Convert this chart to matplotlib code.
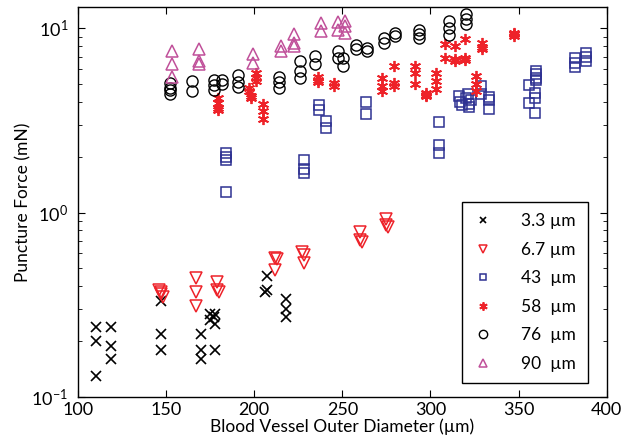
import matplotlib
matplotlib.use('Agg')
import matplotlib.pyplot as plt
from matplotlib.ticker import LogLocator, NullFormatter

plt.rcParams['font.family'] = ['Lato', 'DejaVu Sans']

# 3.3 um needle
x33 = [110, 110, 110, 119, 119, 119, 147, 147, 147, 170, 170, 170,
       175, 178, 175, 178, 177, 177.5, 207, 207, 206, 218, 218, 218]
y33 = [0.24, 0.20, 0.13, 0.24, 0.19, 0.16, 0.33, 0.22, 0.18, 0.22, 0.18, 0.16,
       0.28, 0.28, 0.26, 0.25, 0.27, 0.18, 0.45, 0.38, 0.37, 0.34, 0.30, 0.27]

# 6.7 um
x67 = [146, 147, 147, 148, 167, 167, 167, 179, 179, 180, 212, 213, 212,
       227, 228, 228, 260, 260, 261, 275, 275, 276]
y67 = [0.38, 0.37, 0.36, 0.35, 0.44, 0.37, 0.31, 0.42, 0.38, 0.37, 0.57, 0.56, 0.49,
       0.61, 0.585, 0.53, 0.78, 0.71, 0.69, 0.92, 0.86, 0.83]

# 43 um
x43 = [184, 184, 184, 184, 228.5, 228.5, 228.5, 236.5, 237, 240.5, 240.5,
       263.5, 263.5, 305, 305, 305, 316, 317, 318, 320, 321, 322, 323, 322,
       328.5, 328.5, 333, 333, 333, 356, 356, 359, 359, 359, 360, 360, 360, 360,
       382, 382, 382, 388, 388, 388]
y43 = [2.10, 2.01, 1.93, 1.29, 1.93, 1.72, 1.63, 3.83, 3.6, 3.14, 2.87,
       4.0, 3.44, 3.10, 2.33, 2.10, 4.3, 4.0, 3.85, 4.2, 4.4, 3.9, 4.1, 3.75,
       4.86, 4.37, 4.24, 4.07, 3.63, 4.92, 3.95, 4.47, 4.17, 3.48, 5.86, 5.62, 5.39, 5.22,
       6.91, 6.49, 6.18, 7.3, 6.97, 6.63]

# 58 um
x58 = [179.4, 179.4, 179.4, 179.4, 197, 197, 198, 198, 200.8, 200.8, 200.8,
       204.9, 204.9, 204.9, 236, 236, 236, 245.5, 245.5, 272.4, 272.4, 272.4,
       279.4, 279.4, 279.4, 291, 291, 291, 297.3, 297.3, 297.3, 303.4, 303.4, 303.4,
       308, 308, 314, 314, 314, 319.6, 319.6, 319.6, 329, 329, 329,
       325.7, 325.7, 325.7, 347.4, 347.4, 347.4]
y58 = [4.2, 3.95, 3.7, 3.6, 4.76, 4.57, 4.29, 4.2, 5.73, 5.39, 5.17,
       3.87, 3.56, 3.21, 5.4, 5.2, 5.1, 5.06, 4.86, 5.39, 4.86, 4.57,
       6.23, 5.06, 4.86, 6.23, 5.73, 4.96, 4.47, 4.35, 4.29, 5.73, 5.17, 4.67,
       8.16, 6.91, 7.99, 6.77, 6.63, 8.75, 6.91, 6.7, 8.33, 7.67, 7.9,
       5.5, 4.96, 4.57, 9.43, 9.05, 9.25]

# 76 um
x76 = [152, 152, 152, 152, 164.7, 164.7, 177, 177, 177, 182, 182,
       190.7, 190.7, 190.7, 213.8, 213.8, 213.8, 226, 226, 226, 234.5, 234.5,
       247.4, 247.4, 250.6, 250.6, 257.7, 257.7, 264, 264, 273.8, 273.8,
       279.8, 279.8, 293.6, 293.6, 293.6, 310.3, 310.3, 310.3, 320, 320, 320]
y76 = [5.06, 4.72, 4.41, 4.6, 5.17, 4.57, 5.22, 4.92, 4.6, 5.22, 5.0,
       5.57, 5.11, 4.8, 5.44, 5.11, 4.72, 6.63, 5.86, 5.39, 7.06, 6.36,
       7.51, 6.91, 6.85, 6.23, 8.1, 7.67, 7.83, 7.51, 8.86, 8.33,
       9.43, 9.05, 9.71, 9.24, 8.8, 10.9, 10.0, 9.2, 11.86, 11.14, 10.47]

# 90 um
x90 = [153.6, 153.6, 153.6, 168.7, 168.7, 168.7, 199.2, 199.2, 215.3, 215.3,
       222.8, 222.8, 222.8, 237.9, 237.9, 247.4, 247.4, 251.5, 251.5, 251.5]
y90 = [7.51, 6.36, 5.44, 7.67, 6.63, 6.36, 7.2, 6.49, 8.0, 7.51,
       9.24, 8.33, 7.99, 10.68, 9.63, 10.82, 9.71, 10.9, 10.3, 9.43]

red = '#ee2229'
blue = '#2e3192'
mag = '#c0509a'
asterisk = (6, 2, 0)

fig = plt.figure(figsize=(6.23, 4.44), dpi=100)
ax = fig.add_axes([0.125, 0.106, 0.849, 0.878])

ax.plot(x33, y33, 'x', color='black', ms=6.5, mew=1.2, label='3.3 µm')
ax.plot(x67, y67, 'v', color=red, mfc='none', ms=8, mew=1.1, label='6.7 µm')
ax.plot(x43, y43, 's', color=blue, mfc='none', ms=6.5, mew=1.1, label='43  µm')
ax.plot(x58, y58, marker=asterisk, ls='none', color=red, ms=8, mew=1.3, label='58  µm')
ax.plot(x76, y76, 'o', color='black', mfc='none', ms=8, mew=1.0, label='76  µm')
ax.plot(x90, y90, '^', color=mag, mfc='none', ms=8.5, mew=1.1, label='90  µm')

ax.set_yscale('log')
ax.set_xlim(100, 400)
ax.set_ylim(0.1, 13)
ax.set_xticks([100, 150, 200, 250, 300, 350, 400])
ax.yaxis.set_minor_locator(LogLocator(base=10, subs=range(2, 10)))
ax.yaxis.set_minor_formatter(NullFormatter())
ax.tick_params(which='both', direction='in', top=True, right=True, labelsize=13)
ax.tick_params(which='major', length=5)
ax.tick_params(which='minor', length=3)
ax.tick_params(axis='y', which='major', pad=7)
ax.tick_params(axis='x', which='major', pad=4)
for s in ax.spines.values():
    s.set_linewidth(1.0)

ax.set_xlabel('Blood Vessel Outer Diameter (µm)', fontsize=12.5, labelpad=0)
ax.set_ylabel('Puncture Force (mN)', fontsize=12.5, labelpad=0)

leg = ax.legend(loc='lower right', bbox_to_anchor=(0.964, 0.036), borderaxespad=0,
                fontsize=12.5, labelspacing=0.72, handlelength=1.2, handletextpad=1.6,
                borderpad=0.65, markerscale=0.75, fancybox=False, framealpha=1)
leg.get_frame().set_edgecolor('black')
leg.get_frame().set_linewidth(1.0)

plt.savefig('out.png', dpi=100)
plt.close()
